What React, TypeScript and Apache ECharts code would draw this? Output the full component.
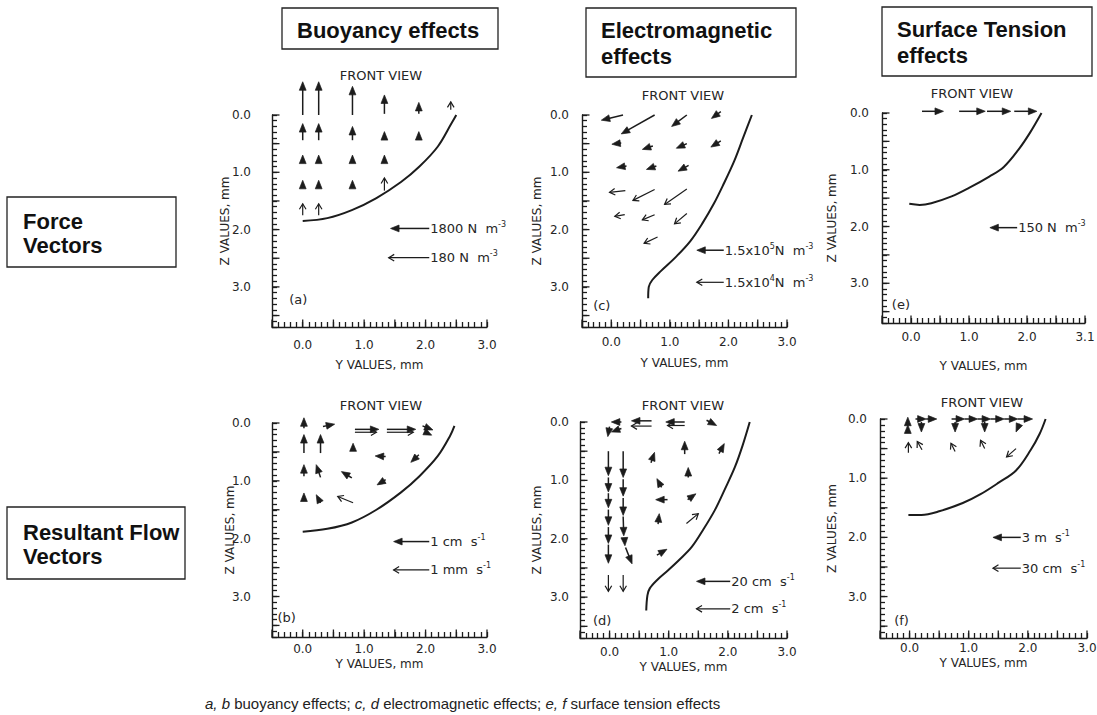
import React, { useEffect, useRef } from 'react';
import * as echarts from 'echarts';

const INK = '#1c1c1c';
const TXT = '#262626';
const AXIS_FONT = 'DejaVu Sans';
const HEAD_FONT = 'Liberation Sans';

// ---------- axis ranges / tick labels ----------
const Y_MIN = -0.5, Y_MAX = 3.0, Z_MIN = 0, Z_MAX = 3.7;
const MAJOR_STEP = 0.5, MINOR_STEP = 0.1;
const xTickLabels = ['0.0', '1.0', '2.0', '3.0'];
const xTickLabelsE = ['0.0', '1.0', '2.0', '3.1'];
const zTickLabels = ['0.0', '1.0', '2.0', '3.0'];

// ---------- panel (a) buoyancy force ----------
const boundaryA = [[0.0, 1.85], [0.4, 1.8], [0.8, 1.66], [1.2, 1.45], [1.6, 1.17], [1.9, 0.9], [2.2, 0.55], [2.42, 0.15], [2.5, 0.0]];
// [yTail, zTail, yHead, zHead, style(0 filled head, 1 open head)]
const arrowsA = [
  [0.0, 0.0, 0.0, -0.58, 0], [0.26, 0.0, 0.26, -0.58, 0], [0.81, 0.0, 0.81, -0.5, 0], [1.33, -0.02, 1.33, -0.35, 0], [1.89, -0.02, 1.89, -0.22, 0], [2.41, -0.09, 2.41, -0.23, 1],
  [0.0, 0.44, 0.0, 0.15, 0], [0.26, 0.44, 0.26, 0.15, 0], [0.81, 0.44, 0.81, 0.2, 0], [1.33, 0.44, 1.33, 0.29, 0], [1.89, 0.44, 1.89, 0.29, 0],
  [0.0, 0.85, 0.0, 0.7, 0], [0.26, 0.85, 0.26, 0.7, 0], [0.81, 0.85, 0.81, 0.7, 0], [1.33, 0.85, 1.33, 0.7, 0],
  [0.0, 1.29, 0.0, 1.14, 0], [0.26, 1.29, 0.26, 1.14, 0], [0.81, 1.29, 0.81, 1.14, 0], [1.33, 1.32, 1.33, 1.1, 1],
  [0.0, 1.75, 0.0, 1.55, 1], [0.26, 1.75, 0.26, 1.55, 1],
];
const refA = [[2.06, 1.98, 1.43, 1.98, 0], [2.06, 2.49, 1.4, 2.49, 1]];
const refLabelsA = ['1800 N  m{s|-3}', '180 N  m{s|-3}'];
const letterA = [[-0.22, 3.22]];

// ---------- panel (c) electromagnetic force ----------
const boundaryC = [[2.4, 0.0], [2.25, 0.4], [2.1, 0.8], [1.92, 1.2], [1.75, 1.55], [1.55, 1.9], [1.35, 2.2], [1.1, 2.48], [0.85, 2.72], [0.7, 2.88], [0.64, 3.0], [0.63, 3.2]];
const arrowsC = [
  [0.2, 0.0, -0.17, 0.09, 0], [0.74, 0.0, 0.17, 0.33, 0], [1.29, 0.0, 1.03, 0.2, 0], [1.87, -0.06, 1.71, 0.06, 0],
  [0.17, 0.49, 0.01, 0.51, 0], [0.71, 0.54, 0.53, 0.6, 0], [1.29, 0.5, 1.11, 0.58, 0], [1.87, 0.45, 1.7, 0.56, 0],
  [0.26, 0.89, 0.09, 0.92, 0], [0.77, 0.89, 0.6, 0.95, 0], [1.32, 0.88, 1.14, 0.98, 0],
  [0.24, 1.32, -0.03, 1.35, 1], [0.74, 1.3, 0.37, 1.49, 1], [1.29, 1.29, 0.91, 1.56, 1],
  [0.23, 1.74, 0.06, 1.77, 1], [0.74, 1.74, 0.53, 1.83, 1], [1.29, 1.72, 1.08, 1.9, 1],
  [0.79, 2.13, 0.56, 2.24, 1],
];
const refC = [[1.92, 2.36, 1.46, 2.36, 0], [1.92, 2.92, 1.46, 2.92, 1]];
const refLabelsC = ['1.5x10{s|5}N  m{s|-3}', '1.5x10{s|4}N  m{s|-3}'];
const letterC = [[-0.31, 3.33]];

// ---------- panel (e) surface tension force ----------
const boundaryE = [[-0.03, 1.6], [0.15, 1.62], [0.35, 1.59], [0.7, 1.47], [1.0, 1.32], [1.35, 1.12], [1.6, 0.95], [1.85, 0.65], [2.05, 0.35], [2.25, 0.0]];
const arrowsE = [
  [0.19, -0.03, 0.56, -0.03, 0], [0.83, -0.03, 1.28, -0.03, 0], [1.31, -0.03, 1.72, -0.03, 0], [1.78, -0.03, 2.17, -0.03, 0],
];
const refE = [[1.83, 2.02, 1.36, 2.02, 0]];
const refLabelsE = ['150 N  m{s|-3}'];
const letterE = [[-0.33, 3.38]];

// ---------- panel (b) buoyancy flow ----------
const boundaryB = [[0.0, 1.88], [0.4, 1.83], [0.8, 1.72], [1.2, 1.5], [1.6, 1.2], [1.9, 0.92], [2.2, 0.57], [2.4, 0.22], [2.47, 0.05]];
const arrowsB = [
  [0.02, 0.09, 0.02, -0.09, 0], [0.33, 0.06, 0.52, 0.02, 0],
  [0.85, 0.11, 1.24, 0.11, 0], [0.85, 0.16, 1.2, 0.16, 1],
  [1.37, 0.11, 1.84, 0.11, 0], [1.37, 0.16, 1.8, 0.16, 1],
  [1.95, 0.05, 2.12, 0.12, 0], [1.98, 0.15, 2.1, 0.21, 0],
  [0.02, 0.52, 0.02, 0.2, 0], [0.29, 0.52, 0.29, 0.2, 0], [0.82, 0.49, 0.82, 0.35, 0], [1.35, 0.58, 1.18, 0.57, 0], [1.89, 0.55, 1.76, 0.68, 0],
  [0.02, 0.92, 0.02, 0.72, 0], [0.29, 0.94, 0.22, 0.72, 0], [0.8, 0.95, 0.63, 0.84, 0], [1.35, 0.98, 1.21, 1.07, 0],
  [0.02, 1.36, 0.02, 1.21, 0], [0.29, 1.38, 0.22, 1.24, 0], [0.82, 1.38, 0.57, 1.27, 1],
];
const refB = [[2.06, 2.05, 1.48, 2.05, 0], [2.06, 2.54, 1.48, 2.54, 1]];
const refLabelsB = ['1 cm  s{s|-1}', '1 mm  s{s|-1}'];
const letterB = [[-0.41, 3.37]];

// ---------- panel (d) electromagnetic flow ----------
const boundaryD = [[2.37, 0.0], [2.25, 0.4], [2.12, 0.77], [1.95, 1.15], [1.78, 1.51], [1.58, 1.85], [1.39, 2.14], [1.18, 2.36], [0.99, 2.54], [0.8, 2.71], [0.68, 2.85], [0.64, 2.97], [0.62, 3.23]];
const arrowsD = [
  [0.0, 0.08, -0.03, 0.25, 0], [0.2, 0.0, 0.03, 0.0, 0], [0.2, 0.11, 0.03, 0.17, 0],
  [0.71, -0.02, 0.37, -0.02, 0], [0.71, 0.07, 0.37, 0.07, 1],
  [1.27, 0.0, 0.95, 0.0, 0], [1.27, 0.06, 0.98, 0.06, 1],
  [1.64, -0.03, 1.81, 0.06, 0],
  [-0.02, 0.5, -0.02, 0.92, 0], [-0.02, 0.95, -0.02, 1.2, 0], [-0.02, 1.22, -0.02, 1.47, 0], [-0.02, 1.5, -0.02, 1.77, 0], [-0.02, 1.8, -0.02, 2.08, 0], [-0.02, 2.1, -0.02, 2.42, 0],
  [-0.02, 2.62, -0.02, 2.9, 1],
  [0.23, 0.5, 0.23, 0.95, 0], [0.23, 0.98, 0.23, 1.27, 0], [0.23, 1.3, 0.23, 1.6, 0], [0.23, 1.62, 0.24, 1.95, 0], [0.25, 1.98, 0.26, 2.12, 0], [0.27, 2.15, 0.38, 2.43, 0],
  [0.23, 2.62, 0.23, 2.9, 1],
  [0.7, 0.7, 0.76, 0.52, 0], [0.88, 1.12, 0.8, 0.97, 0], [0.98, 1.33, 0.78, 1.33, 0], [0.82, 1.75, 0.84, 1.57, 0], [0.8, 2.28, 0.97, 2.18, 0],
  [1.27, 0.55, 1.27, 0.33, 0], [1.33, 0.95, 1.33, 0.78, 0], [1.32, 1.33, 1.46, 1.23, 0], [1.3, 1.74, 1.5, 1.57, 1], [1.85, 0.54, 1.94, 0.37, 0],
];
const refD = [[2.04, 2.73, 1.47, 2.73, 0], [2.04, 3.2, 1.47, 3.2, 1]];
const refLabelsD = ['20 cm  s{s|-1}', '2 cm  s{s|-1}'];
const letterD = [[-0.28, 3.4]];

// ---------- panel (f) surface tension flow ----------
const boundaryF = [[-0.02, 1.62], [0.2, 1.62], [0.5, 1.56], [0.9, 1.42], [1.2, 1.27], [1.5, 1.08], [1.8, 0.87], [2.05, 0.52], [2.2, 0.25], [2.3, 0.0]];
const arrowsF = [
  [0.1, 0.0, 0.28, 0.0, 0], [0.28, 0.0, 0.46, 0.0, 0],
  [0.71, 0.0, 0.93, 0.0, 0], [0.93, 0.0, 1.15, 0.0, 0], [1.15, 0.0, 1.37, 0.0, 0], [1.37, 0.0, 1.6, 0.0, 0], [1.6, 0.0, 1.83, 0.0, 0], [1.83, 0.0, 2.08, 0.0, 0],
  [-0.03, 0.25, -0.03, 0.1, 0], [-0.03, 0.12, -0.03, -0.03, 0],
  [0.2, 0.05, 0.2, 0.22, 0], [0.77, 0.05, 0.77, 0.22, 0], [1.27, 0.05, 1.27, 0.22, 0], [1.86, 0.08, 1.8, 0.22, 0],
  [-0.02, 0.57, -0.02, 0.4, 1], [0.21, 0.52, 0.13, 0.38, 1], [0.77, 0.55, 0.7, 0.41, 1], [1.27, 0.5, 1.2, 0.36, 1], [1.8, 0.5, 1.64, 0.64, 1],
];
const refF = [[1.88, 2.0, 1.41, 2.0, 0], [1.88, 2.52, 1.41, 2.52, 1]];
const refLabelsF = ['3 m  s{s|-1}', '30 cm  s{s|-1}'];
const letterF = [[-0.26, 3.4]];

// ---------- layout (pixels) ----------
const panels = [
  { letter: '(a)', letterPos: letterA, boundary: boundaryA, arrows: arrowsA, refs: refA, refLabels: refLabelsA, xTicks: xTickLabels,
    grid: { left: 272, top: 115, width: 215, height: 212 }, yNameGap: 41, xNameGap: 32, xLabelMargin: 12, yLabelMargin: 21, front: [381, 75] },
  { letter: '(c)', letterPos: letterC, boundary: boundaryC, arrows: arrowsC, refs: refC, refLabels: refLabelsC, xTicks: xTickLabels,
    grid: { left: 582, top: 115, width: 205, height: 212 }, yNameGap: 39, xNameGap: 30, xLabelMargin: 9, yLabelMargin: 13, front: [683, 95] },
  { letter: '(e)', letterPos: letterE, boundary: boundaryE, arrows: arrowsE, refs: refE, refLabels: refLabelsE, xTicks: xTickLabelsE,
    grid: { left: 882, top: 113, width: 203, height: 210 }, yNameGap: 44, xNameGap: 37, xLabelMargin: 8, yLabelMargin: 13, front: [972, 93] },
  { letter: '(b)', letterPos: letterB, boundary: boundaryB, arrows: arrowsB, refs: refB, refLabels: refLabelsB, xTicks: xTickLabels,
    grid: { left: 272, top: 423, width: 215, height: 214 }, yNameGap: 36, xNameGap: 21, xLabelMargin: 6, yLabelMargin: 21, front: [381, 405] },
  { letter: '(d)', letterPos: letterD, boundary: boundaryD, arrows: arrowsD, refs: refD, refLabels: refLabelsD, xTicks: xTickLabels,
    grid: { left: 580, top: 422, width: 207, height: 216 }, yNameGap: 37, xNameGap: 23, xLabelMargin: 8, yLabelMargin: 11, front: [683, 405] },
  { letter: '(f)', letterPos: letterF, boundary: boundaryF, arrows: arrowsF, refs: refF, refLabels: refLabelsF, xTicks: xTickLabels,
    grid: { left: 880, top: 419, width: 207, height: 219 }, yNameGap: 42, xNameGap: 19, xLabelMargin: 4, yLabelMargin: 13, front: [982, 402] },
];

// longer ticks at every 0.5 mm: [yValue, zValue, axisFlag(0 = Y axis, 1 = Z axis)]
function majorTickItems() {
  const out: number[][] = [];
  for (let k = 0; k <= Math.round((Y_MAX - Y_MIN) / MAJOR_STEP); k++) out.push([Y_MIN + k * MAJOR_STEP, Z_MAX, 0]);
  for (let k = 0; k <= Math.floor((Z_MAX - Z_MIN) / MAJOR_STEP + 1e-9); k++) out.push([Y_MIN, Z_MIN + k * MAJOR_STEP, 1]);
  return out;
}

function tickFormatter(labels: string[]) {
  return (v: number) => {
    const r = Math.round(v);
    return Math.abs(v - r) < 1e-6 && r >= 0 && r < labels.length ? labels[r] : '';
  };
}

function arrowShapes(p0: number[], p1: number[], style: number) {
  const dx = p1[0] - p0[0];
  const dy = p1[1] - p0[1];
  const L = Math.hypot(dx, dy) || 1;
  const ux = dx / L, uy = dy / L, nx = -uy, ny = ux;
  const out: any[] = [];
  if (style === 0) {
    const hl = Math.min(8.5, L);
    const hw = 3.4;
    const bx = p1[0] - ux * hl, by = p1[1] - uy * hl;
    if (L > hl + 0.5) {
      out.push({ type: 'line', shape: { x1: p0[0], y1: p0[1], x2: bx + ux, y2: by + uy }, style: { stroke: INK, lineWidth: 1.5 } });
    }
    out.push({ type: 'polygon', shape: { points: [[p1[0], p1[1]], [bx + nx * hw, by + ny * hw], [bx - nx * hw, by - ny * hw]] }, style: { fill: INK, stroke: INK, lineWidth: 0.7 } });
  } else {
    const hl = 5.5, hw = 3.3;
    const bx = p1[0] - ux * hl, by = p1[1] - uy * hl;
    out.push({ type: 'line', shape: { x1: p0[0], y1: p0[1], x2: p1[0], y2: p1[1] }, style: { stroke: INK, lineWidth: 1.2 } });
    out.push({ type: 'polyline', shape: { points: [[bx + nx * hw, by + ny * hw], [p1[0], p1[1]], [bx - nx * hw, by - ny * hw]] }, style: { stroke: INK, lineWidth: 1.2, fill: 'none' } });
  }
  return out;
}

const axisText = { fontFamily: AXIS_FONT, fontSize: 12, color: TXT };

function buildOption() {
  const grid: any[] = [];
  const xAxis: any[] = [];
  const yAxis: any[] = [];
  const series: any[] = [];
  const graphic: any[] = [];

  panels.forEach((p, i) => {
    grid.push({ ...p.grid, containLabel: false, outerBoundsMode: 'none' });
    // axis ticks every 0.1 mm, labels only at whole millimetres
    xAxis.push({
      type: 'value', gridIndex: i, position: 'bottom', min: Y_MIN, max: Y_MAX, interval: MINOR_STEP,
      name: 'Y VALUES, mm', nameLocation: 'middle', nameGap: p.xNameGap, nameMoveOverlap: false,
      nameTextStyle: { ...axisText },
      axisLine: { show: true, onZero: false, lineStyle: { color: INK, width: 1.4 } },
      axisTick: { show: true, inside: true, length: 5, lineStyle: { color: INK, width: 1.3 } },
      axisLabel: { formatter: tickFormatter(p.xTicks), margin: p.xLabelMargin, hideOverlap: false, ...axisText },
      splitLine: { show: false },
    });
    yAxis.push({
      type: 'value', gridIndex: i, position: 'left', min: Z_MIN, max: Z_MAX, interval: MINOR_STEP, inverse: true,
      name: 'Z VALUES, mm', nameLocation: 'middle', nameGap: p.yNameGap, nameMoveOverlap: false,
      nameTextStyle: { ...axisText },
      axisLine: { show: true, onZero: false, lineStyle: { color: INK, width: 1.4 } },
      axisTick: { show: true, inside: true, length: 5, lineStyle: { color: INK, width: 1.3 } },
      axisLabel: { formatter: tickFormatter(zTickLabels), margin: p.yLabelMargin, hideOverlap: false, ...axisText },
      splitLine: { show: false },
    });

    // longer inside ticks every 0.5 mm, placed through the axes' own scales
    series.push({
      type: 'custom', xAxisIndex: i, yAxisIndex: i, coordinateSystem: 'cartesian2d', data: majorTickItems(), clip: false, silent: true, z: 5,
      renderItem: (_params: any, api: any) => {
        const c = api.coord([api.value(0), api.value(1)]);
        const flag = api.value(2);
        if (flag === 0) {
          return { type: 'line', shape: { x1: c[0], y1: c[1], x2: c[0], y2: c[1] - 7.5 }, style: { stroke: INK, lineWidth: 1.3 } };
        }
        return { type: 'line', shape: { x1: c[0], y1: c[1], x2: c[0] + 7.5, y2: c[1] }, style: { stroke: INK, lineWidth: 1.3 } };
      },
    });

    series.push({
      type: 'line', xAxisIndex: i, yAxisIndex: i, data: p.boundary, showSymbol: false, symbol: 'none',
      smooth: 0.35, clip: false, silent: true, lineStyle: { color: INK, width: 2 }, z: 3,
    });
    series.push({
      type: 'custom', xAxisIndex: i, yAxisIndex: i, coordinateSystem: 'cartesian2d', data: p.arrows, clip: false, silent: true, z: 4,
      renderItem: (_params: any, api: any) => {
        const p0 = api.coord([api.value(0), api.value(1)]);
        const p1 = api.coord([api.value(2), api.value(3)]);
        return { type: 'group', children: arrowShapes(p0, p1, api.value(4)) };
      },
    });
    const labels = p.refLabels;
    series.push({
      type: 'custom', xAxisIndex: i, yAxisIndex: i, coordinateSystem: 'cartesian2d', data: p.refs, clip: false, silent: true, z: 4,
      renderItem: (params: any, api: any) => {
        const p0 = api.coord([api.value(0), api.value(1)]);
        const p1 = api.coord([api.value(2), api.value(3)]);
        const children = arrowShapes(p0, p1, api.value(4));
        children.push({
          type: 'text', x: p0[0] + 1, y: p0[1],
          style: {
            text: labels[params.dataIndex], fill: TXT, fontSize: 13, fontFamily: AXIS_FONT, lineHeight: 16,
            align: 'left', verticalAlign: 'middle',
            rich: { s: { fontSize: 8, lineHeight: 9, verticalAlign: 'top', fill: TXT, fontFamily: AXIS_FONT } },
          },
        });
        return { type: 'group', children };
      },
    });
    const letter = p.letter;
    series.push({
      type: 'custom', xAxisIndex: i, yAxisIndex: i, coordinateSystem: 'cartesian2d', data: p.letterPos, clip: false, silent: true, z: 4,
      renderItem: (_params: any, api: any) => {
        const c = api.coord([api.value(0), api.value(1)]);
        return { type: 'text', x: c[0], y: c[1], style: { text: letter, fill: TXT, fontSize: 13, fontFamily: AXIS_FONT, align: 'left', verticalAlign: 'middle' } };
      },
    });

    graphic.push({
      type: 'text', x: p.front[0], y: p.front[1], silent: true,
      style: { text: 'FRONT VIEW', fill: TXT, fontSize: 13, fontFamily: AXIS_FONT, align: 'center', verticalAlign: 'middle', textAlign: 'center', textVerticalAlign: 'middle' },
    });
  });

  const headFont = { fontSize: 22, fontWeight: 'bold', fontFamily: HEAD_FONT, fill: '#111', align: 'left', verticalAlign: 'middle', textAlign: 'left', textVerticalAlign: 'middle' };
  const box = (x: number, y: number, w: number, h: number) => ({
    type: 'rect', silent: true, shape: { x, y, width: w, height: h }, style: { fill: '#fff', stroke: '#222', lineWidth: 1.3 },
  });
  const htxt = (x: number, y: number, text: string) => ({ type: 'text', silent: true, x, y, style: { text, ...headFont } });

  graphic.push(box(282, 8, 216, 41), htxt(297, 30, 'Buoyancy effects'));
  graphic.push(box(586, 8, 210, 69), htxt(601, 30, 'Electromagnetic'), htxt(601, 56, 'effects'));
  graphic.push(box(882, 7, 210, 69), htxt(897, 29, 'Surface Tension'), htxt(897, 55, 'effects'));
  graphic.push(box(7, 197, 169, 70), htxt(23, 221, 'Force'), htxt(23, 245, 'Vectors'));
  graphic.push(box(7, 507, 178, 72), htxt(23, 532, 'Resultant Flow'), htxt(23, 556, 'Vectors'));

  graphic.push({
    type: 'text', silent: true, x: 205, y: 703,
    style: {
      text: '{i|a, b} buoyancy effects; {i|c, d} electromagnetic effects; {i|e, f} surface tension effects',
      fill: '#222', fontSize: 15, fontFamily: HEAD_FONT, align: 'left', verticalAlign: 'middle', textAlign: 'left', textVerticalAlign: 'middle',
      rich: { i: { fontStyle: 'italic', fontSize: 15, fontFamily: HEAD_FONT, fill: '#222' } },
    },
  });

  return {
    animation: false,
    backgroundColor: '#ffffff',
    grid, xAxis, yAxis, series, graphic,
  };
}

export default function App() {
  const ref = useRef<HTMLDivElement>(null);
  useEffect(() => {
    if (!ref.current) return;
    const chart = echarts.init(ref.current, undefined, { renderer: 'svg' });
    chart.setOption(buildOption() as any);
    return () => chart.dispose();
  }, []);
  return (
    <div
      ref={ref}
      style={{ position: 'fixed', left: 0, top: 0, width: 1097, height: 715, background: '#fff' }}
    />
  );
}
